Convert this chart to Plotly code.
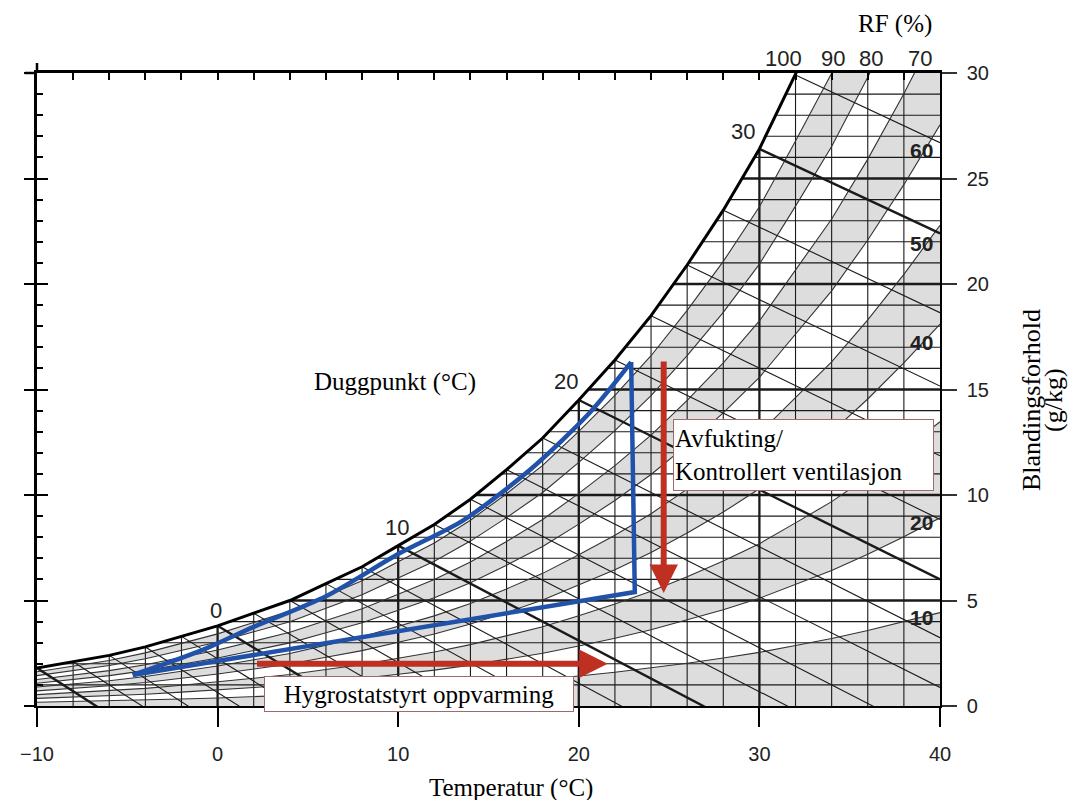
import plotly.graph_objects as go

# ---------------- data ----------------
temps = list(range(-10, 41, 2))                       # grid temperatures (°C)
sat_w = [1.8, 2.1, 2.4, 2.8, 3.3, 3.8, 4.4, 5.0, 5.8, 6.6, 7.6, 8.6, 9.8,
         11.2, 12.7, 14.5, 16.4, 18.5, 20.9, 23.5, 26.4, 29.9, 33.5, 37.7,
         42.3, 47.3]                                   # saturation mixing ratio (g/kg)
wb_slope = [0.55, 0.55, 0.55, 0.54, 0.53, 0.52, 0.50, 0.49, 0.47, 0.46, 0.45,
            0.44, 0.44, 0.43, 0.43, 0.425, 0.42, 0.415, 0.41, 0.405, 0.40,
            0.40, 0.40, 0.40, 0.40, 0.40]              # diagonal-line slopes (g/kg per °C)
rh_levels = [10, 20, 30, 40, 50, 60, 70, 80, 90]
shaded_bands = [(0, 10), (20, 30), (40, 50), (60, 70), (80, 90)]
w_grid = list(range(1, 30))
x_ticks = [-10, 0, 10, 20, 30, 40]
x_ticktext = ['\u221210', '0', '10', '20', '30', '40']
y_ticks = [0, 5, 10, 15, 20, 25, 30]

# blue process path: curved upper side, then vertical drop, then straight back
proc_upper_T = [-4.7, -1.0, 2.0, 6.0, 10.0, 13.6, 17.3, 20.6, 22.9]
proc_upper_w = [1.47, 2.6, 3.75, 5.2, 7.2, 8.8, 11.2, 13.9, 16.3]
proc_lower_T = [22.9, 23.1, -4.7]
proc_lower_w = [16.3, 5.4, 1.47]

heat_T = [2.1, 21.6]; heat_w = [2.0, 2.0]              # red horizontal arrow
dry_T = [24.7, 24.7]; dry_w = [16.4, 5.35]             # red vertical arrow

dew_labels = ['0', '10', '20', '30']
rh_top_labels = ['100', '90', '80', '70']
rh_side_labels = ['60', '50', '40', '20', '10']

P = 1013.25


def rh_curve(r):
    out = []
    for ws in sat_w:
        e = P * ws / (622.0 + ws)
        out.append(622.0 * r / 100.0 * e / (P - r / 100.0 * e))
    return out


BAND = '#dddddd'
GRID = '#1a1a1a'
RED = '#bf2f22'
BLUE = '#2152aa'
SERIF = 'Liberation Serif'
SANS = 'Liberation Sans'

fig = go.Figure()

# gray RH bands
for lo, hi in shaded_bands:
    lo_w = [0.0] * len(temps) if lo == 0 else rh_curve(lo)
    fig.add_trace(go.Scatter(x=temps, y=lo_w, mode='lines', line=dict(width=0, color=BAND),
                             hoverinfo='skip'))
    fig.add_trace(go.Scatter(x=temps, y=rh_curve(hi), mode='lines', line=dict(width=0, color=BAND),
                             fill='tonexty', fillcolor=BAND, hoverinfo='skip'))


def segs(pairs):
    xs, ys = [], []
    for (x0, y0, x1, y1) in pairs:
        xs += [x0, x1, None]
        ys += [y0, y1, None]
    return xs, ys


# grid lines
thin_v = [(t, 0, t, 30) for t in temps if -10 < t < 40 and t % 10 != 0]
bold_v = [(t, 0, t, 30) for t in temps if -10 < t < 40 and t % 10 == 0]
thin_h = [(-10, w, 40, w) for w in w_grid if w % 5 != 0]
bold_h = [(-10, w, 40, w) for w in w_grid if w % 5 == 0]
for pairs, wd in [(thin_v, 1.1), (thin_h, 1.1), (bold_v, 2.3), (bold_h, 2.3)]:
    xs, ys = segs(pairs)
    fig.add_trace(go.Scatter(x=xs, y=ys, mode='lines', line=dict(width=wd, color=GRID),
                             hoverinfo='skip'))

# RH curves
for r in rh_levels:
    fig.add_trace(go.Scatter(x=temps, y=rh_curve(r), mode='lines',
                             line=dict(width=1.1, color='#333333'), hoverinfo='skip'))

# diagonal (wet-bulb) lines
thin_d, bold_d = [], []
for t, ws, s in zip(temps, sat_w, wb_slope):
    if t >= 40:
        continue
    seg = (t, ws, 40, ws - s * (40 - t))
    (bold_d if t % 10 == 0 else thin_d).append(seg)
for pairs, wd in [(thin_d, 1.1), (bold_d, 2.4)]:
    xs, ys = segs(pairs)
    fig.add_trace(go.Scatter(x=xs, y=ys, mode='lines', line=dict(width=wd, color=GRID),
                             hoverinfo='skip'))

# white mask above saturation
n = temps.index(34) + 1
fig.add_trace(go.Scatter(x=temps[:n] + [34, -10], y=sat_w[:n] + [45, 45], mode='lines',
                         fill='toself', fillcolor='white', line=dict(width=0, color='white'),
                         hoverinfo='skip'))

# saturation curve
fig.add_trace(go.Scatter(x=temps, y=sat_w, mode='lines', line=dict(width=3, color='black'),
                         hoverinfo='skip'))

# blue process path
fig.add_trace(go.Scatter(x=proc_upper_T, y=proc_upper_w, mode='lines',
                         line=dict(width=4.5, color=BLUE, shape='spline', smoothing=0.8),
                         hoverinfo='skip'))
fig.add_trace(go.Scatter(x=proc_lower_T, y=proc_lower_w, mode='lines',
                         line=dict(width=4.5, color=BLUE), hoverinfo='skip'))

# dummy traces to register extra axes
fig.add_trace(go.Scatter(x=[], y=[], xaxis='x2', yaxis='y'))
fig.add_trace(go.Scatter(x=[], y=[], xaxis='x', yaxis='y2'))
fig.add_trace(go.Scatter(x=[], y=[], xaxis='x', yaxis='y3'))

C = dict(xanchor='center', yanchor='middle', showarrow=False)
ann = []
# arrows
for (T, W) in [(heat_T, heat_w), (dry_T, dry_w)]:
    ann.append(dict(x=T[1], y=W[1], ax=T[0], ay=W[0], xref='x', yref='y',
                    axref='x', ayref='y', text='', showarrow=True, arrowhead=2, arrowsize=0.95,
                    arrowwidth=6, arrowcolor=RED, standoff=0))

# text boxes
ann.append(dict(x=11.15, y=0.57, xref='x', yref='y', text='Hygrostatstyrt oppvarming',
                font=dict(family=SERIF, size=25, color='black'),
                bgcolor='white', bordercolor='#9c6b6b', borderwidth=1, borderpad=1,
                width=306, height=32, **C))
ann.append(dict(x=32.45, y=11.9, xref='x', yref='y',
                text='Avfukting/<br>Kontrollert ventilasjon', align='left',
                font=dict(family=SERIF, size=25, color='black'),
                bgcolor='white', bordercolor='#9c6b6b', borderwidth=1, borderpad=1,
                width=257, height=68, **C))

# dew point labels
for lab, (t, w) in zip(dew_labels, [(-0.1, 4.55), (9.93, 8.44), (19.3, 15.4), (29.1, 27.25)]):
    ann.append(dict(x=t, y=w, xref='x', yref='y', text=lab,
                    font=dict(family=SANS, size=22, color='#222'), **C))
ann.append(dict(x=9.82, y=15.36, xref='x', yref='y', text='Duggpunkt (°C)',
                font=dict(family=SERIF, size=25, color='black'), **C))

# RH labels
for lab, px in zip(rh_top_labels, [783, 833, 871, 920]):
    ann.append(dict(x=(px - 37) / 903, y=(706 - 58) / 633, xref='paper', yref='paper', text=lab,
                    font=dict(family=SANS, size=22, color='#222'), **C))
for lab, w in zip(rh_side_labels, [26.35, 21.9, 17.25, 8.68, 4.2]):
    ann.append(dict(x=39.0, y=w, xref='x', yref='y', text='<b>' + lab + '</b>',
                    font=dict(family=SANS, size=21, color='#222'), **C))
ann.append(dict(x=(895 - 37) / 903, y=(706 - 24) / 633, xref='paper', yref='paper', text='RF (%)',
                font=dict(family=SERIF, size=25, color='black'), **C))

# axis titles
ann.append(dict(x=(511 - 37) / 903, y=(706 - 788) / 633, xref='paper', yref='paper',
                text='Temperatur (°C)', font=dict(family=SERIF, size=25, color='black'), **C))
ann.append(dict(x=(1031 - 37) / 903, y=(706 - 400) / 633, xref='paper', yref='paper',
                text='Blandingsforhold', textangle=-90,
                font=dict(family=SERIF, size=26, color='black'), **C))
ann.append(dict(x=(1053 - 37) / 903, y=(706 - 400) / 633, xref='paper', yref='paper',
                text='(g/kg)', textangle=-90,
                font=dict(family=SERIF, size=26, color='black'), **C))

# small frame overhangs at the top-left corner
shapes = [
    dict(type='line', xref='paper', yref='paper', x0=0, x1=0, y0=1, y1=1 + 10 / 633,
         line=dict(color='black', width=2.5)),
    dict(type='line', xref='paper', yref='paper', x0=-12 / 903, x1=0, y0=1, y1=1,
         line=dict(color='black', width=2.5)),
]

fig.update_layout(
    width=1073, height=800,
    margin=dict(l=37, r=133, t=73, b=94),
    plot_bgcolor='white', paper_bgcolor='white', showlegend=False,
    annotations=ann, shapes=shapes,
    xaxis=dict(range=[-10, 40], showgrid=False, zeroline=False, showline=True,
               linecolor='black', linewidth=2, ticks='outside', ticklen=19, tickwidth=2,
               tickcolor='black', tickvals=x_ticks, ticktext=x_ticktext,
               tickfont=dict(family=SANS, size=20, color='#222'), ticklabelstandoff=10),
    xaxis2=dict(range=[-10, 40], overlaying='x', side='top', showgrid=False, zeroline=False,
                showline=True, linecolor='black', linewidth=2.5, ticks='inside', ticklen=7,
                tickwidth=1.5, tickcolor='black', dtick=2, tick0=0, showticklabels=False),
    yaxis=dict(range=[0, 30], side='right', showgrid=False, zeroline=False, showline=True,
               linecolor='black', linewidth=1.5, ticks='outside', ticklen=15, tickwidth=2,
               tickcolor='#333', tickvals=y_ticks,
               tickfont=dict(family=SANS, size=20, color='#222'), ticklabelstandoff=6),
    yaxis2=dict(range=[0, 30], overlaying='y', side='left', showgrid=False, zeroline=False,
                showline=True, linecolor='black', linewidth=2.5, ticks='inside', ticklen=11,
                tickwidth=2, tickcolor='black', tickvals=y_ticks, showticklabels=False,
                minor=dict(dtick=1, ticks='inside', ticklen=6, tickwidth=1.5, tickcolor='black')),
    yaxis3=dict(range=[0, 30], overlaying='y', side='left', showgrid=False, zeroline=False,
                showline=False, ticks='outside', ticklen=12, tickwidth=2, tickcolor='black',
                tickvals=y_ticks, showticklabels=False),
)

fig.write_html('out.html')
